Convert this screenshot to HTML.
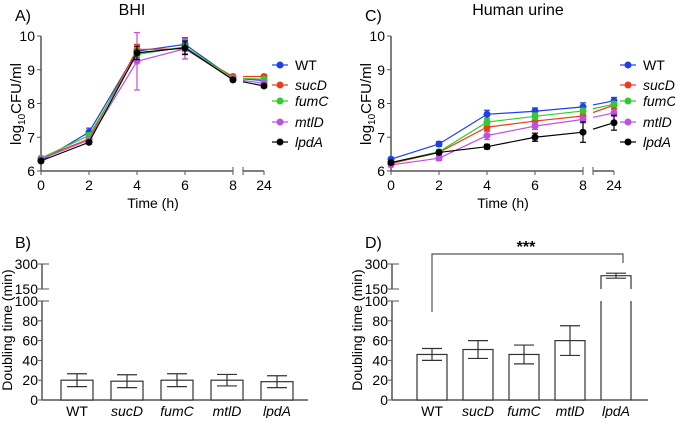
<!DOCTYPE html>
<html><head><meta charset="utf-8"><style>
body{margin:0;background:#fff}
svg text{font-family:"Liberation Sans",sans-serif;fill:#000}
</style></head><body>
<svg id="s" width="675" height="418" xmlns="http://www.w3.org/2000/svg"></svg>
<script>
const times=[0,2,4,6,8,24];
const strains=["WT","sucD","fumC","mtlD","lpdA"];
const colors=["#1f3fe8","#f03a1a","#2ecc2e","#c050e0","#000000"];
const bhiWT=[6.3,7.15,9.55,9.75,8.75,8.68];
const bhiSucD=[6.38,6.95,9.6,9.62,8.8,8.8];
const bhiFumC=[6.38,7.05,9.45,9.68,8.75,8.72];
const bhiMtlD=[6.35,6.92,9.25,9.62,8.72,8.6];
const bhiLpdA=[6.3,6.85,9.5,9.65,8.7,8.52];
const bhiErr=[[0.05,0.12,0.2,0.2,0.05,0.05],[0.05,0.08,0.15,0.3,0.05,0.05],[0.05,0.08,0.2,0.2,0.05,0.05],[0.05,0.08,0.85,0.3,0.05,0.05],[0.05,0.05,0.2,0.2,0.05,0.05]];
const urWT=[6.35,6.8,7.68,7.77,7.9,8.08];
const urSucD=[6.22,6.55,7.3,7.48,7.63,7.95];
const urFumC=[6.25,6.57,7.45,7.62,7.78,7.98];
const urMtlD=[6.18,6.38,7.05,7.33,7.53,7.72];
const urLpdA=[6.25,6.55,6.72,7.0,7.15,7.43];
const urErr=[[0.05,0.07,0.12,0.1,0.12,0.1],[0.05,0.08,0.1,0.1,0.1,0.1],[0.05,0.07,0.1,0.1,0.08,0.08],[0.05,0.07,0.12,0.1,0.1,0.1],[0.05,0.05,0.07,0.12,0.3,0.22]];
const bhiDbl=[20,19,20,20,18.5];
const bhiDblErr=[6.5,6.5,6.5,5.8,6];
const urDbl=[46,51,46,60,230];
const urDblErr=[6,9,9.5,15,15];
const yTicks=[6,7,8,9,10];
const barTicks=[0,20,40,60,80,100,150,300];

const S=document.getElementById('s');
function el(tag,attrs,txt){const e=document.createElementNS('http://www.w3.org/2000/svg',tag);for(const k in attrs)e.setAttribute(k,attrs[k]);if(txt!==undefined)e.textContent=txt;S.appendChild(e);return e;}
const G="#555";
function panelLine(ox,title,label,series,errs){
  const xs=t=>t<=8?ox+41+t*24:ox+264;
  const ys=v=>171-(v-6)*33.75;
  let e;
  e=el('text',{x:ox+15,y:21,'font-size':16},label);
  
  e=el('text',{x:ox+(ox?168:132),y:15,'font-size':16,'text-anchor':'middle'},title);
  
  el('line',{x1:ox+41,y1:36,x2:ox+41,y2:171,stroke:G,'stroke-width':1.5});
  el('line',{x1:ox+41,y1:171,x2:ox+233,y2:171,stroke:G,'stroke-width':1.5});
  el('line',{x1:ox+243,y1:171,x2:ox+264,y2:171,stroke:G,'stroke-width':1.5});
  el('line',{x1:ox+233,y1:167,x2:ox+233,y2:175,stroke:G});
  el('line',{x1:ox+243,y1:167,x2:ox+243,y2:175,stroke:G});
  yTicks.forEach(v=>{el('line',{x1:ox+37,y1:ys(v),x2:ox+41,y2:ys(v),stroke:G});
    e=el('text',{x:ox+35,y:ys(v)+5,'font-size':14,'text-anchor':'end'},v);
    });
  times.forEach(t=>{el('line',{x1:xs(t),y1:171,x2:xs(t),y2:175,stroke:G});
    e=el('text',{x:xs(t),y:190,'font-size':14,'text-anchor':'middle'},t);
    });
  e=el('text',{x:ox+153,y:208,'font-size':14,'text-anchor':'middle'},'Time (h)');
  
  const yt=el('text',{x:0,y:0,'font-size':15,'text-anchor':'middle',transform:`translate(${ox+21},104) rotate(-90)`});
  yt.innerHTML='log<tspan font-size="10" dy="4">10</tspan><tspan dy="-4">CFU/ml</tspan>';
  
  series.forEach((d,i)=>{
    let pts=d.slice(0,5).map((v,j)=>xs(times[j])+','+ys(v)).join(' ');
    e=el('polyline',{points:pts,fill:'none',stroke:colors[i],'stroke-width':1.2});
    
    const x8=xs(8),x24=xs(24),y8=ys(d[4]),y24=ys(d[5]);
    const f=(x)=>y8+(y24-y8)*(x-x8)/(x24-x8);
    el('line',{x1:x8,y1:y8,x2:ox+234,y2:f(ox+234),stroke:colors[i],'stroke-width':1.2});
    el('line',{x1:ox+243,y1:f(ox+243),x2:x24,y2:y24,stroke:colors[i],'stroke-width':1.2});
    d.forEach((v,j)=>{const x=xs(times[j]),er=errs[i][j];
      el('line',{x1:x,y1:ys(v-er),x2:x,y2:ys(v+er),stroke:colors[i],'stroke-width':1.2});
      el('line',{x1:x-3,y1:ys(v-er),x2:x+3,y2:ys(v-er),stroke:colors[i],'stroke-width':1.2});
      el('line',{x1:x-3,y1:ys(v+er),x2:x+3,y2:ys(v+er),stroke:colors[i],'stroke-width':1.2});
      e=el('circle',{cx:x,cy:ys(v),r:3.5,fill:colors[i]});
      });
  });
  const ly=[65,85,101,122,142];
  strains.forEach((n,i)=>{const lx=ox+(ox?278:280);
    el('line',{x1:lx-8,y1:ly[i],x2:lx+8,y2:ly[i],stroke:colors[i],'stroke-width':1.2});
    el('circle',{cx:lx,cy:ly[i],r:3.5,fill:colors[i]});
    e=el('text',{x:lx+15,y:ly[i]+5,'font-size':14,'font-style':i?'italic':'normal'},n);
    });
}
panelLine(0,'BHI','A)',[bhiWT,bhiSucD,bhiFumC,bhiMtlD,bhiLpdA],bhiErr);
panelLine(350,'Human urine','C)',[urWT,urSucD,urFumC,urMtlD,urLpdA],urErr);

function by(v){return v<=100?400-v*0.99:(v<150?301-(v-100)*12/50:289-(v-150)*25/150);}
function panelBar(ox,label,vals,errs,c0,sp,bw,xend){
  let e=el('text',{x:ox+15,y:248,'font-size':16},label);
  
  el('line',{x1:ox+42,y1:264,x2:ox+42,y2:289,stroke:G,'stroke-width':1.5});
  el('line',{x1:ox+42,y1:301,x2:ox+42,y2:400,stroke:G,'stroke-width':1.5});
  el('line',{x1:ox+42,y1:400,x2:xend,y2:400,stroke:G,'stroke-width':1.5});
  barTicks.forEach(v=>{el('line',{x1:ox+38,y1:by(v),x2:ox+(v>=100?49:42),y2:by(v),stroke:G});
    e=el('text',{x:ox+38,y:by(v)+5,'font-size':14,'text-anchor':'end'},v);
    });
  e=el('text',{x:0,y:0,'font-size':14,'text-anchor':'middle',transform:`translate(${ox+12},330) rotate(-90)`},'Doubling time (min)');
  
  vals.forEach((v,i)=>{const cx=c0+sp*i,x0=cx-bw/2,x1=cx+bw/2;
    if(v<=100){e=el('rect',{x:x0,y:by(v),width:bw,height:400-by(v),fill:'#fff',stroke:'#333','stroke-width':1.2});}
    else{e=el('path',{d:`M${x0},400V301M${x1},400V301M${x0},289V${by(v)}H${x1}V289`,fill:'none',stroke:'#333','stroke-width':1.2});}
    
    const a=by(v-errs[i]),b=by(v+errs[i]);
    el('line',{x1:cx,y1:a,x2:cx,y2:b,stroke:'#333','stroke-width':1.2});
    el('line',{x1:cx-10,y1:a,x2:cx+10,y2:a,stroke:'#333','stroke-width':1.2});
    el('line',{x1:cx-10,y1:b,x2:cx+10,y2:b,stroke:'#333','stroke-width':1.2});
    e=el('text',{x:cx,y:416,'font-size':14,'text-anchor':'middle','font-style':i?'italic':'normal'},strains[i]);
    });
}
panelBar(0,'B)',bhiDbl,bhiDblErr,77,50,32,308);
panelBar(350,'D)',urDbl,urDblErr,432,46,30,648);
let br=el('path',{d:'M432,312V254H623V263',fill:'none',stroke:'#555','stroke-width':1.2});

br=el('text',{x:526,y:252,'font-size':16,'font-weight':'bold','text-anchor':'middle'},'***');

</script>
</body></html>
